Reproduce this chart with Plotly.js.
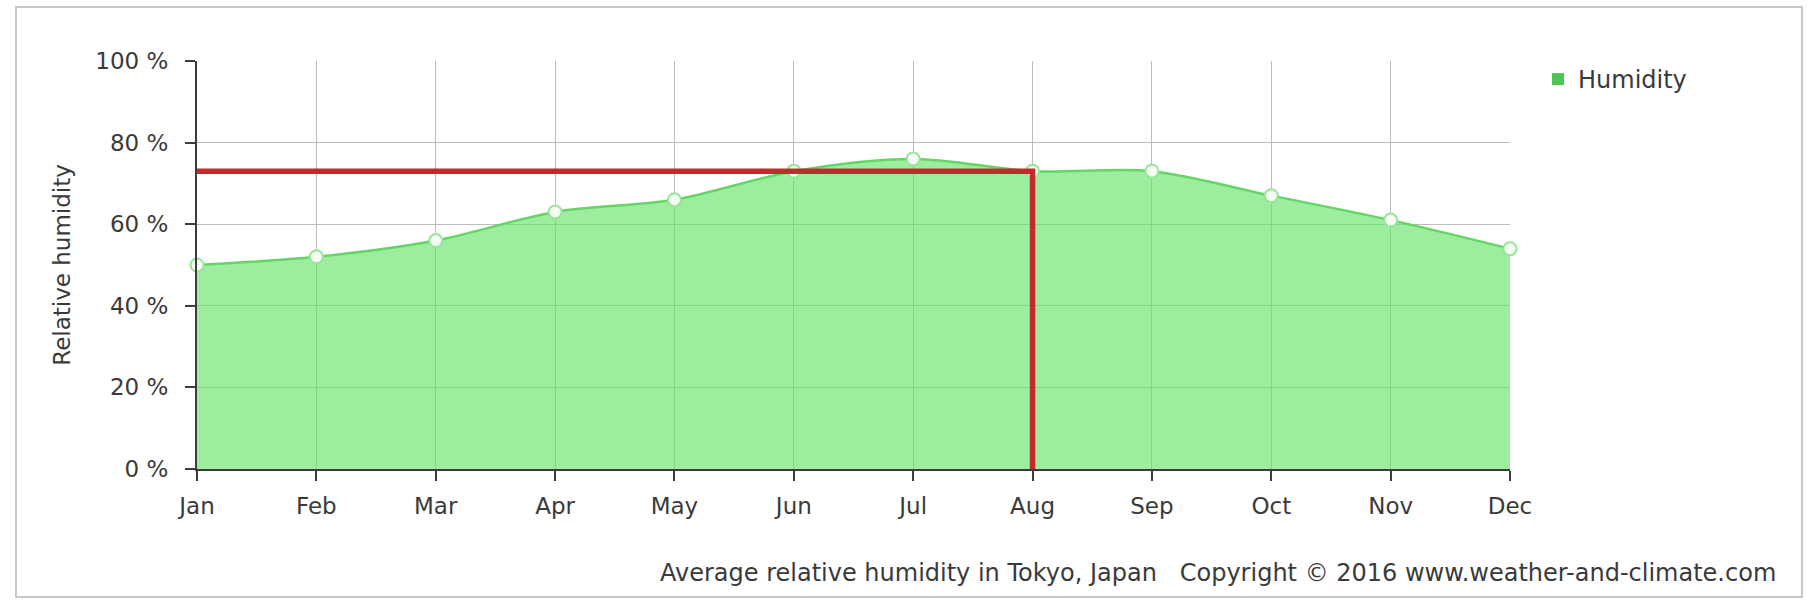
<!DOCTYPE html>
<html>
<head>
<meta charset="utf-8">
<script src="https://cdn.plot.ly/plotly-3.0.1.min.js"></script>
<style>
  html, body { margin: 0; padding: 0; background: #fff; }
  #chart { width: 1807px; height: 613px; }
</style>
</head>
<body>
<div id="chart"></div>
<script>
// ---- data ----
const months = ['Jan','Feb','Mar','Apr','May','Jun','Jul','Aug','Sep','Oct','Nov','Dec'];
const humidity = [50, 52, 56, 63, 66, 73, 76, 73, 73, 67, 61, 54];
const yTickValues = [0, 20, 40, 60, 80, 100];
const yTickLabels = ['0 %', '20 %', '40 %', '60 %', '80 %', '100 %'];
const seriesName = 'Humidity';
const highlightMonth = 'Aug';
const highlightValue = humidity[months.indexOf(highlightMonth)];
const yTitle = 'Relative humidity';
const caption = 'Average relative humidity in Tokyo, Japan&nbsp;&nbsp;&nbsp;Copyright © 2016 www.weather-and-climate.com';

// ---- layout constants ----
const W = 1807, H = 613;
const L = 197, R = 1510, T = 61, B = 469;
const pw = R - L, ph = B - T;
const px = v => (v - L) / pw;
const py = v => (B - v) / ph;
const FONT = 'DejaVu Sans, Verdana, sans-serif';
const TXT = '#3a3a3a';

const traces = [
  {
    x: months, y: humidity, type: 'scatter', mode: 'lines+markers',
    fill: 'tozeroy', fillcolor: 'rgba(100,228,104,0.64)',
    line: { color: '#66d466', width: 2.5, shape: 'spline', smoothing: 0.9 },
    marker: { size: 13, color: '#f4fdf4', line: { color: '#98e498', width: 2 } },
    cliponaxis: false, showlegend: false, hoverinfo: 'x+y'
  },
  {
    x: [months[0], highlightMonth, highlightMonth],
    y: [highlightValue, highlightValue, 0],
    type: 'scatter', mode: 'lines',
    line: { color: '#c22a2c', width: 5.5 },
    cliponaxis: false, showlegend: false, hoverinfo: 'skip'
  },
  {
    x: [null], y: [null], type: 'scatter', mode: 'markers', name: seriesName,
    marker: { symbol: 'square', size: 12, color: '#4cc552' },
    showlegend: true, hoverinfo: 'skip'
  }
];

const layout = {
  width: W, height: H,
  margin: { l: L, r: W - R, t: T, b: H - B, pad: 0 },
  paper_bgcolor: '#ffffff', plot_bgcolor: '#ffffff',
  font: { family: FONT, size: 23, color: TXT },
  xaxis: {
    type: 'category', range: [0, months.length - 1],
    showgrid: true, gridcolor: '#bdbdbd', gridwidth: 1,
    showline: true, linecolor: '#3c3c3c', linewidth: 2,
    ticks: 'outside', ticklen: 10, tickwidth: 2, tickcolor: '#3c3c3c',
    ticklabelstandoff: 5,
    tickfont: { family: FONT, size: 23, color: TXT },
    zeroline: false, fixedrange: true
  },
  yaxis: {
    range: [0, 100], tickvals: yTickValues, ticktext: yTickLabels,
    showgrid: true, gridcolor: '#bdbdbd', gridwidth: 1,
    showline: true, linecolor: '#3c3c3c', linewidth: 2,
    ticks: 'outside', ticklen: 10, tickwidth: 2, tickcolor: '#3c3c3c',
    ticklabelstandoff: 12,
    tickfont: { family: FONT, size: 23, color: TXT },
    title: { text: yTitle, font: { family: FONT, size: 23, color: TXT }, standoff: 18 },
    zeroline: false, fixedrange: true
  },
  legend: {
    x: px(1538), y: py(57), xanchor: 'left', yanchor: 'top',
    font: { family: FONT, size: 24, color: TXT },
    bgcolor: 'rgba(0,0,0,0)', itemclick: false
  },
  annotations: [
    {
      text: caption, xref: 'paper', yref: 'paper',
      x: px(1778), y: py(573), xanchor: 'right', yanchor: 'middle',
      showarrow: false, font: { family: FONT, size: 24, color: TXT }
    }
  ],
  shapes: [
    {
      type: 'rect', xref: 'paper', yref: 'paper', layer: 'below',
      x0: px(16), x1: px(1802), y0: py(597), y1: py(7),
      line: { color: '#c8c8c8', width: 2 }, fillcolor: 'rgba(0,0,0,0)'
    }
  ]
};

Plotly.newPlot('chart', traces, layout, { displayModeBar: false, staticPlot: true });
</script>
</body>
</html>
